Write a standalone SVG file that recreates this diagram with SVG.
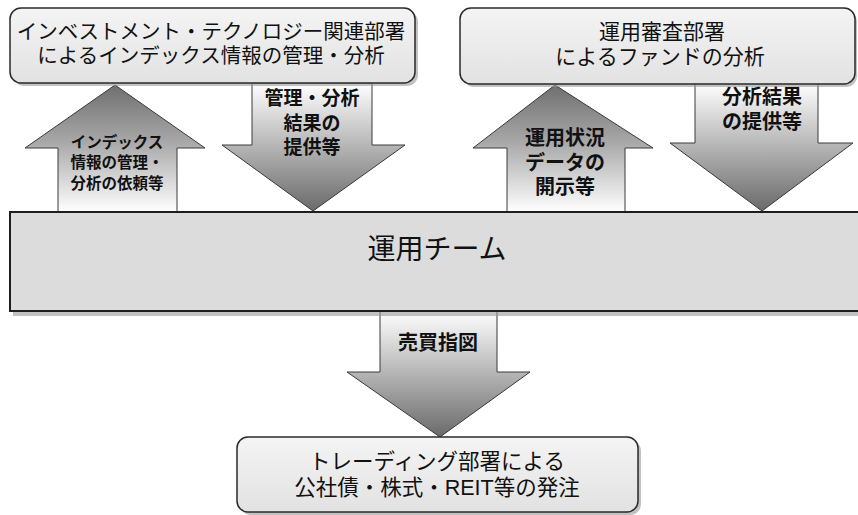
<svg xmlns="http://www.w3.org/2000/svg" width="858" height="515" viewBox="0 0 858 515">
<defs>
<linearGradient id="gUp" x1="0" y1="0" x2="0" y2="1">
<stop offset="0" stop-color="#6f6f6f"/>
<stop offset="0.45" stop-color="#a8a8a8"/>
<stop offset="1" stop-color="#ffffff"/>
</linearGradient>
<linearGradient id="gDown" x1="0" y1="0" x2="0" y2="1">
<stop offset="0" stop-color="#ffffff"/>
<stop offset="0.5" stop-color="#b4b4b4"/>
<stop offset="1" stop-color="#6a6a6a"/>
</linearGradient>
<linearGradient id="gBox" x1="0" y1="0" x2="0" y2="1">
<stop offset="0" stop-color="#f4f4f4"/>
<stop offset="1" stop-color="#e2e2e2"/>
</linearGradient>
</defs>
<style>
.box{fill:url(#gBox);stroke:#2a2a2a;stroke-width:1.5}
.shadow{fill:#9a9a9a;opacity:0.6}
.up{fill:url(#gUp);stroke:#3a3a3a;stroke-width:1}
.down{fill:url(#gDown);stroke:#3a3a3a;stroke-width:1}
.t{font-family:"Liberation Sans","Noto Sans CJK JP","Noto Sans CJK SC",sans-serif;fill:#111;text-anchor:middle;dominant-baseline:central}
.lbl{font-family:"Liberation Sans","Noto Sans CJK JP","Noto Sans CJK SC",sans-serif;font-weight:bold;fill:#111;text-anchor:middle;dominant-baseline:central}
</style>
<rect width="858" height="515" fill="#ffffff"/>
<g id="connectors">
<g id="arrow-left-up">
<path class="up" d="M115,85 L205,148 L177,148 L177,212 L58,212 L58,148 L25,148 Z"/>
<text class="lbl" font-size="15.5"><tspan x="117" y="142">インデックス</tspan><tspan x="117" y="162">情報の管理・</tspan><tspan x="117" y="183">分析の依頼等</tspan></text>
</g>
<g id="arrow-left-down">
<path class="down" d="M252,83 L372,83 L372,145 L405,145 L313,211 L222,145 L252,145 Z"/>
<text class="lbl" font-size="19"><tspan x="312" y="98">管理・分析</tspan><tspan x="312" y="123">結果の</tspan><tspan x="312" y="147">提供等</tspan></text>
</g>
<g id="arrow-right-up">
<path class="up" d="M555,85 L653,148 L625,148 L625,212 L507,212 L507,148 L473,148 Z"/>
<text class="lbl" font-size="20"><tspan x="565" y="138">運用状況</tspan><tspan x="565" y="163">データの</tspan><tspan x="565" y="187">開示等</tspan></text>
</g>
<g id="arrow-right-down">
<path class="down" d="M695,83 L818,83 L818,143 L853,143 L762,211 L670,143 L695,143 Z"/>
<text class="lbl" font-size="20"><tspan x="762" y="97">分析結果</tspan><tspan x="762" y="122">の提供等</tspan></text>
</g>
<g id="arrow-bottom">
<path class="down" d="M380,311 L497,311 L497,372 L530,372 L440,437 L347,372 L380,372 Z"/>
<text class="lbl" font-size="20" x="438" y="343">売買指図</text>
</g>
</g>
<g id="node-it">
<rect class="shadow" x="13" y="11" width="405" height="75" rx="11"/>
<rect class="box" x="10" y="8" width="405" height="75" rx="11"/>
<text class="t" font-size="20.5"><tspan x="211" y="31">インベストメント・テクノロジー関連部署</tspan><tspan x="211" y="55">によるインデックス情報の管理・分析</tspan></text>
</g>
<g id="node-review">
<rect class="shadow" x="463" y="11" width="394" height="76" rx="11"/>
<rect class="box" x="460" y="8" width="395" height="76" rx="11"/>
<text class="t" font-size="21"><tspan x="662" y="31">運用審査部署</tspan><tspan x="660" y="56">によるファンドの分析</tspan></text>
</g>
<g id="node-team">
<rect class="shadow" x="13" y="311" width="845" height="5"/>
<rect x="10" y="212" width="852" height="99" fill="#dcdcdc" stroke="#1e1e1e" stroke-width="2"/>
<text class="t" font-size="28" x="437" y="249">運用チーム</text>
</g>
<g id="node-trading">
<rect class="shadow" x="240" y="440" width="401" height="75" rx="11"/>
<rect class="box" x="237" y="437" width="401" height="75" rx="11"/>
<text class="t" font-size="21.5"><tspan x="437" y="462">トレーディング部署による</tspan><tspan x="437" y="488">公社債・株式・REIT等の発注</tspan></text>
</g>
</svg>
